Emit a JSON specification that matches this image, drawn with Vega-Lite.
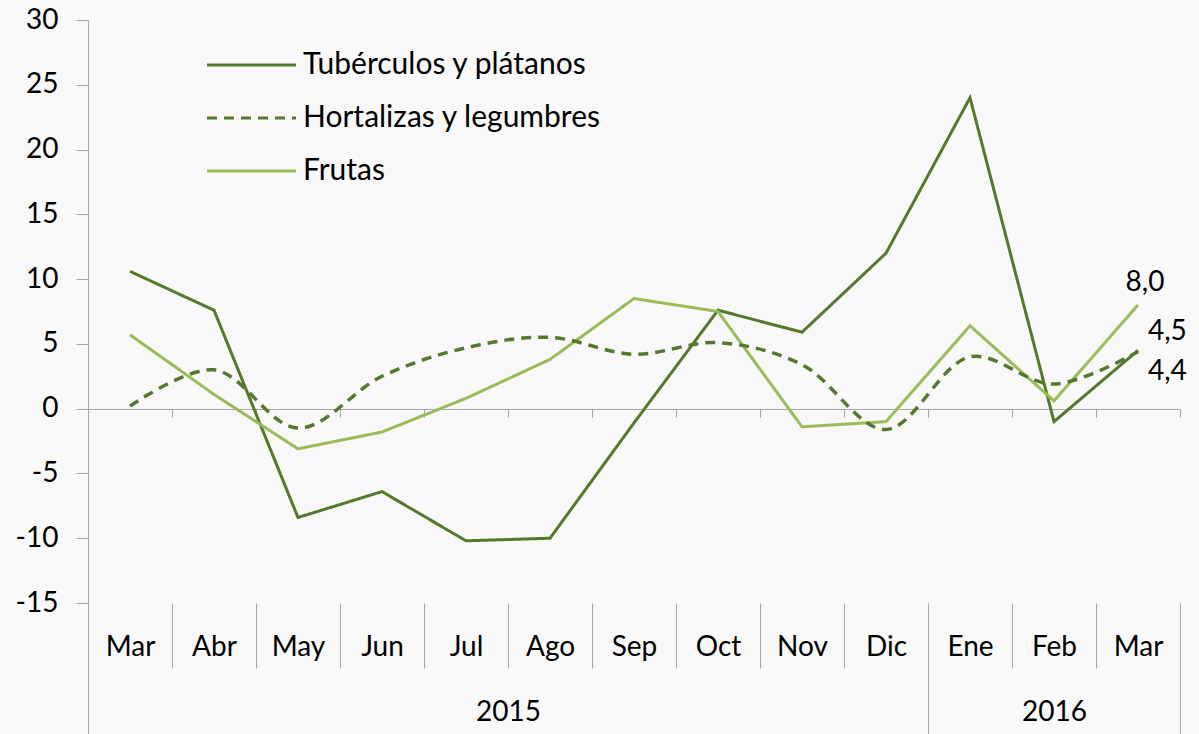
{
  "$schema": "https://vega.github.io/schema/vega-lite/v6.json",
  "width": 1092,
  "height": 583,
  "autosize": {"type": "none"},
  "padding": {"left": 88, "top": 20, "right": 19, "bottom": 131},
  "background": "#f8f8f8",
  "config": {
    "view": {"stroke": null},
    "font": "Lato",
    "axis": {"grid": false, "labelFont": "Lato", "labelFontSize": 28, "labelColor": "#000000", "domainColor": "#a6a6a6", "tickColor": "#a6a6a6", "title": null},
    "locale": {"number": {"decimal": ",", "thousands": ".", "grouping": [3], "currency": ["", ""], "minus": "-"}},
    "text": {"font": "Lato", "fontSize": 28, "color": "#000000"}
  },
  "datasets": {
    "series": [
      {"fecha": "Mar 2015", "serie": "Tubérculos y plátanos", "valor": 10.6},
      {"fecha": "Abr 2015", "serie": "Tubérculos y plátanos", "valor": 7.6},
      {"fecha": "May 2015", "serie": "Tubérculos y plátanos", "valor": -8.4},
      {"fecha": "Jun 2015", "serie": "Tubérculos y plátanos", "valor": -6.4},
      {"fecha": "Jul 2015", "serie": "Tubérculos y plátanos", "valor": -10.2},
      {"fecha": "Ago 2015", "serie": "Tubérculos y plátanos", "valor": -10.0},
      {"fecha": "Sep 2015", "serie": "Tubérculos y plátanos", "valor": -1.1},
      {"fecha": "Oct 2015", "serie": "Tubérculos y plátanos", "valor": 7.6},
      {"fecha": "Nov 2015", "serie": "Tubérculos y plátanos", "valor": 5.9},
      {"fecha": "Dic 2015", "serie": "Tubérculos y plátanos", "valor": 12.0},
      {"fecha": "Ene 2016", "serie": "Tubérculos y plátanos", "valor": 24.0},
      {"fecha": "Feb 2016", "serie": "Tubérculos y plátanos", "valor": -1.0},
      {"fecha": "Mar 2016", "serie": "Tubérculos y plátanos", "valor": 4.5},
      {"fecha": "Mar 2015", "serie": "Hortalizas y legumbres", "valor": 0.2},
      {"fecha": "Abr 2015", "serie": "Hortalizas y legumbres", "valor": 3.0},
      {"fecha": "May 2015", "serie": "Hortalizas y legumbres", "valor": -1.5},
      {"fecha": "Jun 2015", "serie": "Hortalizas y legumbres", "valor": 2.5},
      {"fecha": "Jul 2015", "serie": "Hortalizas y legumbres", "valor": 4.7},
      {"fecha": "Ago 2015", "serie": "Hortalizas y legumbres", "valor": 5.5},
      {"fecha": "Sep 2015", "serie": "Hortalizas y legumbres", "valor": 4.2},
      {"fecha": "Oct 2015", "serie": "Hortalizas y legumbres", "valor": 5.1},
      {"fecha": "Nov 2015", "serie": "Hortalizas y legumbres", "valor": 3.4},
      {"fecha": "Dic 2015", "serie": "Hortalizas y legumbres", "valor": -1.6},
      {"fecha": "Ene 2016", "serie": "Hortalizas y legumbres", "valor": 4.0},
      {"fecha": "Feb 2016", "serie": "Hortalizas y legumbres", "valor": 1.9},
      {"fecha": "Mar 2016", "serie": "Hortalizas y legumbres", "valor": 4.4},
      {"fecha": "Mar 2015", "serie": "Frutas", "valor": 5.7},
      {"fecha": "Abr 2015", "serie": "Frutas", "valor": 1.1},
      {"fecha": "May 2015", "serie": "Frutas", "valor": -3.1},
      {"fecha": "Jun 2015", "serie": "Frutas", "valor": -1.8},
      {"fecha": "Jul 2015", "serie": "Frutas", "valor": 0.8},
      {"fecha": "Ago 2015", "serie": "Frutas", "valor": 3.8},
      {"fecha": "Sep 2015", "serie": "Frutas", "valor": 8.5},
      {"fecha": "Oct 2015", "serie": "Frutas", "valor": 7.5},
      {"fecha": "Nov 2015", "serie": "Frutas", "valor": -1.4},
      {"fecha": "Dic 2015", "serie": "Frutas", "valor": -1.0},
      {"fecha": "Ene 2016", "serie": "Frutas", "valor": 6.4},
      {"fecha": "Feb 2016", "serie": "Frutas", "valor": 0.6},
      {"fecha": "Mar 2016", "serie": "Frutas", "valor": 8.0}
    ],
    "anios": [
      {"anio": "2015", "inicio": 0, "fin": 10},
      {"anio": "2016", "inicio": 10, "fin": 13}
    ]
  },
  "layer": [
    {
      "data": {"name": "series"},
      "mark": {"type": "point", "opacity": 0},
      "encoding": {
        "x": {
          "field": "fecha", "type": "nominal",
          "scale": {"type": "band", "paddingInner": 0, "paddingOuter": 0,
            "domain": ["Mar 2015", "Abr 2015", "May 2015", "Jun 2015", "Jul 2015", "Ago 2015", "Sep 2015", "Oct 2015", "Nov 2015", "Dic 2015", "Ene 2016", "Feb 2016", "Mar 2016"]},
          "axis": {"orient": "bottom", "offset": -194, "labels": false, "tickBand": "extent", "tickSize": 8, "domain": true, "title": null}
        },
        "y": {
          "field": "valor", "type": "quantitative",
          "scale": {"domain": [-15, 30], "nice": false, "zero": false},
          "axis": {"values": [-15, -10, -5, 0, 5, 10, 15, 20, 25, 30], "tickSize": 12, "labelPadding": 18, "title": null}
        }
      }
    },
    {
      "data": {"name": "anios"},
      "mark": {"type": "rect", "opacity": 0},
      "encoding": {
        "x": {
          "field": "inicio", "type": "quantitative",
          "scale": {"domain": [0, 13], "nice": false, "zero": false},
          "axis": {
            "orient": "bottom", "values": [0, 5, 10, 11.5, 13], "domain": false, "tickSize": 131,
            "tickOpacity": {"condition": {"test": "datum.value == 5 || datum.value == 11.5", "value": 0}, "value": 1},
            "labelExpr": "datum.value == 5 ? '2015' : datum.value == 11.5 ? '2016' : ''",
            "labelPadding": -22, "labelBaseline": "middle", "labelFlush": false, "labelOverlap": false, "title": null
          }
        },
        "x2": {"field": "fin"}
      }
    },
    {
      "data": {"name": "series"},
      "encoding": {
        "x": {
          "field": "fecha", "type": "nominal",
          "scale": {"type": "band", "paddingInner": 0, "paddingOuter": 0,
            "domain": ["Mar 2015", "Abr 2015", "May 2015", "Jun 2015", "Jul 2015", "Ago 2015", "Sep 2015", "Oct 2015", "Nov 2015", "Dic 2015", "Ene 2016", "Feb 2016", "Mar 2016"]},
          "axis": {"orient": "bottom", "domain": false, "tickBand": "extent", "tickSize": 65, "labelPadding": -21, "labelBaseline": "middle", "labelAngle": 0, "labelOverlap": false, "labelExpr": "datum.value ? split(datum.value, ' ')[0] : ''", "title": null}
        },
        "y": {
          "field": "valor", "type": "quantitative",
          "scale": {"domain": [-15, 30], "nice": false, "zero": false},
          "axis": {"values": [-15, -10, -5, 0, 5, 10, 15, 20, 25, 30], "tickSize": 12, "labelPadding": 18, "title": null}
        }
      },
      "layer": [
        {
          "transform": [{"filter": "datum.serie !== 'Hortalizas y legumbres'"}],
          "mark": {"type": "line", "strokeWidth": 3},
          "encoding": {
            "color": {
              "field": "serie", "type": "nominal",
              "scale": {"domain": ["Tubérculos y plátanos", "Hortalizas y legumbres", "Frutas"], "range": ["#56782c", "#56782c", "#9bbb59"]},
              "legend": {"orient": "none", "legendX": 148.5, "legendY": 30, "title": null, "symbolType": "M-4.45,0H4.45", "symbolSize": 400, "symbolStrokeWidth": 3, "labelOffset": 36.5, "labelFont": "Lato", "labelFontSize": 30, "labelColor": "#000000", "labelLimit": 600, "rowPadding": 23, "padding": 0}
            },
            "strokeDash": {
              "field": "serie", "type": "nominal",
              "scale": {"domain": ["Tubérculos y plátanos", "Hortalizas y legumbres", "Frutas"], "range": [[1, 0], [10, 7], [1, 0]]},
              "legend": {"orient": "none", "legendX": 148.5, "legendY": 30, "title": null, "symbolType": "M-4.45,0H4.45", "symbolSize": 400, "symbolStrokeWidth": 3, "labelOffset": 36.5, "labelFont": "Lato", "labelFontSize": 30, "labelColor": "#000000", "labelLimit": 600, "rowPadding": 23, "padding": 0}
            }
          }
        },
        {
          "transform": [{"filter": "datum.serie === 'Hortalizas y legumbres'"}],
          "mark": {"type": "line", "strokeWidth": 3.5, "interpolate": "catmull-rom"},
          "encoding": {
            "color": {"field": "serie", "type": "nominal"},
            "strokeDash": {"field": "serie", "type": "nominal"}
          }
        },
        {
          "transform": [{"filter": "datum.fecha === 'Mar 2016' && datum.serie === 'Frutas'"}],
          "mark": {"type": "text", "align": "center", "baseline": "middle", "dx": 7, "dy": -22},
          "encoding": {"text": {"field": "valor", "type": "quantitative", "format": ".1f"}}
        },
        {
          "transform": [{"filter": "datum.fecha === 'Mar 2016' && datum.serie === 'Tubérculos y plátanos'"}],
          "mark": {"type": "text", "align": "left", "baseline": "middle", "dx": 10, "dy": -18},
          "encoding": {"text": {"field": "valor", "type": "quantitative", "format": ".1f"}}
        },
        {
          "transform": [{"filter": "datum.fecha === 'Mar 2016' && datum.serie === 'Hortalizas y legumbres'"}],
          "mark": {"type": "text", "align": "left", "baseline": "middle", "dx": 10, "dy": 20},
          "encoding": {"text": {"field": "valor", "type": "quantitative", "format": ".1f"}}
        }
      ]
    }
  ],
  "resolve": {"scale": {"x": "independent"}, "axis": {"x": "independent"}}
}
